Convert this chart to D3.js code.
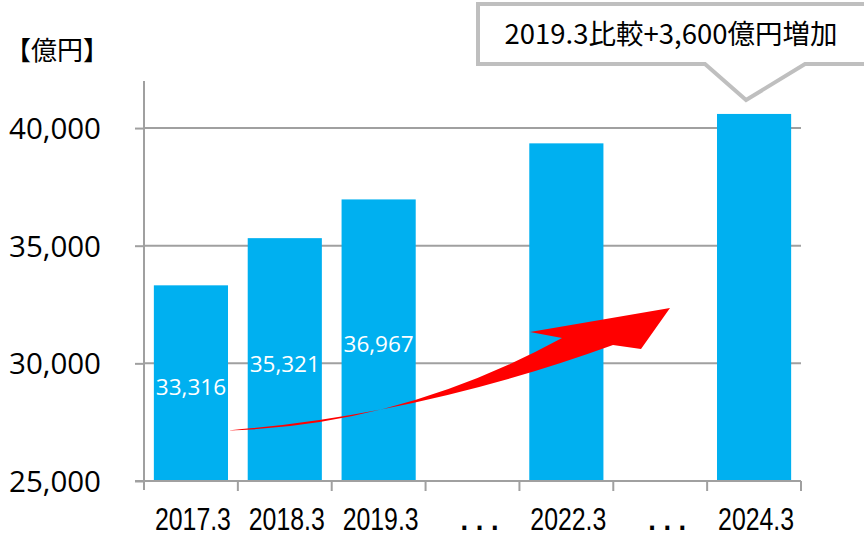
<!DOCTYPE html>
<html>
<head>
<meta charset="utf-8">
<script src="https://cdn.jsdelivr.net/npm/d3@7"></script>
<style>
  body { margin: 0; background: #fff; }
  text { font-family: "Noto Sans CJK JP", "Noto Sans", sans-serif; }
</style>
</head>
<body>
<div id="chart"></div>
<script>
// chart data
var categories = ["2017.3", "2018.3", "2019.3", "…a", "2022.3", "…b", "2024.3"];
var values = [33316, 35321, 36967, null, 39350, null, 40600];
var valueLabels = ["33,316", "35,321", "36,967", "", "", "", ""];
var yTicks = [25000, 30000, 35000, 40000];
var unitLabel = "【億円】";
var calloutText = "2019.3比較+3,600億円増加";

var width = 864, height = 533;

var svg = d3.select("#chart")
  .append("svg")
    .attr("width", width)
    .attr("height", height);

// scales
var x = d3.scaleBand()
  .domain(categories)
  .range([144, 801])
  .paddingInner(0.21)
  .paddingOuter(0.105);

var y = d3.scaleLinear()
  .domain([25000, 42000])
  .range([481, 81]);

var grey = "#a0a0a0";

// gridlines
svg.append("g")
  .selectAll("line")
  .data(yTicks.slice(1))
  .enter()
  .append("line")
    .attr("x1", 144)
    .attr("x2", 801)
    .attr("y1", function(d) { return y(d); })
    .attr("y2", function(d) { return y(d); })
    .attr("stroke", grey)
    .attr("stroke-width", 2);

// bars
var data = categories.map(function(c, i) { return {cat: c, value: values[i], label: valueLabels[i]}; })
  .filter(function(d) { return d.value != null; });

svg.append("g")
  .selectAll("rect")
  .data(data)
  .enter()
  .append("rect")
    .attr("x", function(d) { return x(d.cat); })
    .attr("y", function(d) { return y(d.value); })
    .attr("width", x.bandwidth())
    .attr("height", function(d) { return y(25000) - y(d.value); })
    .attr("fill", "#00b0f0");

// labels inside bars
svg.append("g")
  .selectAll("text")
  .data(data.filter(function(d) { return d.label; }))
  .enter()
  .append("text")
    .attr("x", function(d) { return x(d.cat) + x.bandwidth() / 2; })
    .attr("y", function(d) { return (y(d.value) + y(25000)) / 2 + 12; })
    .attr("text-anchor", "middle")
    .attr("fill", "#fff")
    .style("font-family", "'Open Sans', sans-serif")
    .style("font-size", "22.5px")
    .text(function(d) { return d.label; });

// Y axis
var yAxis = svg.append("g")
  .attr("transform", "translate(144,0)")
  .call(d3.axisLeft(y).tickValues(yTicks).tickFormat(d3.format(",")).tickSize(9).tickPadding(34));
yAxis.select(".domain").remove();
yAxis.selectAll(".tick line").attr("stroke", grey).attr("stroke-width", 2);
yAxis.selectAll(".tick text")
  .attr("fill", "#000")
  .style("font-family", "'Open Sans', sans-serif")
  .style("font-size", "29.5px")
  .attr("dy", "0.36em");
svg.append("line")
  .attr("x1", 144).attr("x2", 144)
  .attr("y1", y(42000)).attr("y2", 490)
  .attr("stroke", grey).attr("stroke-width", 2);

// X axis
svg.append("line")
  .attr("x1", 135).attr("x2", 801)
  .attr("y1", y(25000)).attr("y2", y(25000))
  .attr("stroke", grey).attr("stroke-width", 2);

var bounds = categories.map(function(c) { return x(c) - x.step() * x.paddingInner() / 2; });
bounds.push(801);
svg.append("g")
  .selectAll("line")
  .data(bounds.slice(1))
  .enter()
  .append("line")
    .attr("x1", function(d) { return d; })
    .attr("x2", function(d) { return d; })
    .attr("y1", y(25000))
    .attr("y2", 491)
    .attr("stroke", grey)
    .attr("stroke-width", 2);

function isGap(d) { return d.charAt(0) == "…"; }

svg.append("g")
  .selectAll("text")
  .data(categories)
  .enter()
  .append("text")
    .attr("x", function(d) { return x(d) + x.bandwidth() / 2 + (isGap(d) ? 7 : 2); })
    .attr("y", 530)
    .attr("text-anchor", "middle")
    .attr("fill", "#000")
    .attr("textLength", function(d) { return isGap(d) ? 38 : 76; })
    .attr("lengthAdjust", "spacingAndGlyphs")
    .style("font-family", "'Liberation Sans', Arial, sans-serif")
    .style("font-size", function(d) { return isGap(d) ? "30px" : "31px"; })
    .style("font-weight", function(d) { return isGap(d) ? "bold" : "normal"; })
    .text(function(d) { return isGap(d) ? ". . ." : d; });

// unit label
svg.append("text")
  .attr("x", 5)
  .attr("y", 60)
  .attr("fill", "#000")
  .style("font-size", "26px")
  .text(unitLabel);

// red arrow
var x0 = x("2017.3") + x.bandwidth();
var arrow = d3.path();
arrow.moveTo(x0, y(27150));
arrow.quadraticCurveTo(400, 426, 562, 338);
arrow.lineTo(530, 332);
arrow.lineTo(670, 308);
arrow.lineTo(641, 349);
arrow.lineTo(613, 345);
arrow.quadraticCurveTo(420, 415, x0, y(27150));
arrow.closePath();
svg.append("path")
  .attr("d", arrow.toString())
  .attr("fill", "#ff0000");

// callout
var bx = 478, by = 4, bw = 400, bh = 60;
var tipX = x("2024.3") + x.bandwidth() / 2 - 8;
var callout = d3.path();
callout.moveTo(bx, by);
callout.lineTo(bx + bw, by);
callout.lineTo(bx + bw, by + bh);
callout.lineTo(805, by + bh);
callout.lineTo(tipX, 100);
callout.lineTo(705, by + bh);
callout.lineTo(bx, by + bh);
callout.closePath();
svg.append("path")
  .attr("d", callout.toString())
  .attr("fill", "#fff")
  .attr("stroke", "#bfbfbf")
  .attr("stroke-width", 4);

svg.append("text")
  .attr("x", 671)
  .attr("y", 44)
  .attr("text-anchor", "middle")
  .attr("fill", "#000")
  .style("font-size", "27.5px")
  .text(calloutText);
</script>
</body>
</html>
